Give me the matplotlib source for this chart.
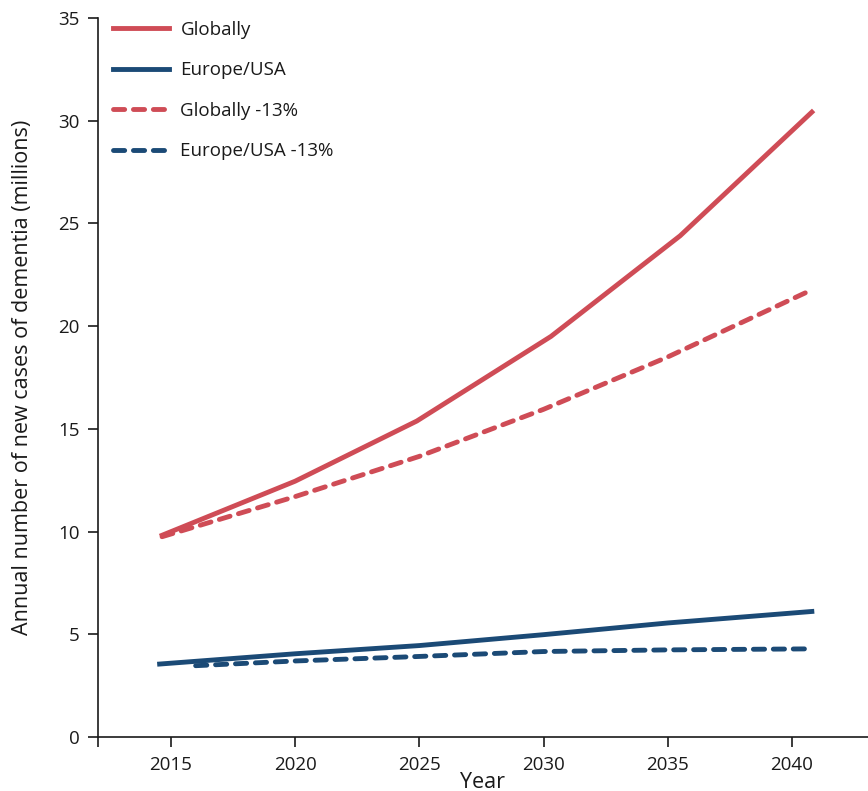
import matplotlib
matplotlib.use("Agg")
import matplotlib.pyplot as plt

plt.rcParams['font.family'] = ['Open Sans', 'DejaVu Sans']

# values (millions of new dementia cases per year)
yearsGlobal = [2014.65, 2020.0, 2024.9, 2030.3, 2035.5, 2040.8]
globally = [9.82, 12.45, 15.38, 19.5, 24.4, 30.42]

yearsGlobalCut = [2014.65, 2020.0, 2025.0, 2030.0, 2035.0, 2040.8]
globallyCut = [9.75, 11.7, 13.66, 15.95, 18.5, 21.77]

yearsEurope = [2014.55, 2020.0, 2025.0, 2030.0, 2035.0, 2040.8]
europe = [3.55, 4.05, 4.45, 4.98, 5.55, 6.11]

yearsEuropeCut = [2016.0, 2020.0, 2025.0, 2030.0, 2035.0, 2040.8]
europeCut = [3.47, 3.7, 3.92, 4.16, 4.24, 4.29]

xTicks = [2015, 2020, 2025, 2030, 2035, 2040]
yTicks = [0, 5, 10, 15, 20, 25, 30, 35]

red = '#cf4c56'
blue = '#1b4a76'

fig = plt.figure(figsize=(8.68, 7.91), dpi=100)
ax = fig.add_axes([0.1129, 0.0683, 0.8871, 0.9089])

lw = 3.5
ax.plot(yearsGlobal, globally, color=red, lw=lw, label='Globally')
ax.plot(yearsEurope, europe, color=blue, lw=lw, label='Europe/USA')
ax.plot(yearsGlobalCut, globallyCut, color=red, lw=lw, dashes=(2.3, 1.8),
        dash_capstyle='round', label='Globally -13%')
ax.plot(yearsEuropeCut, europeCut, color=blue, lw=lw, dashes=(2.3, 1.8),
        dash_capstyle='round', label='Europe/USA -13%')

ax.set_xlim(2012.07, 2043.06)
ax.set_ylim(0, 35)
ax.set_xticks(xTicks)
ax.set_xticks([2012.07], minor=True)
ax.set_yticks(yTicks)
ax.tick_params(axis='both', which='both', direction='out', length=7, width=1.2,
               labelsize=13.5, colors='#1a1a1a')
ax.tick_params(axis='x', pad=7)
ax.tick_params(axis='y', pad=6)

for side in ['top', 'right']:
    ax.spines[side].set_visible(False)
for side in ['left', 'bottom']:
    ax.spines[side].set_linewidth(1.2)
    ax.spines[side].set_color('#1a1a1a')

ax.set_xlabel('Year', fontsize=15.5, labelpad=-2, color='#1a1a1a')
ax.set_ylabel('Annual number of new cases of dementia (millions)', fontsize=15.5,
              labelpad=18, color='#1a1a1a')

leg = ax.legend(loc='upper left', bbox_to_anchor=(-0.005, 1.022), frameon=False,
                fontsize=13.5, handlelength=3.0, handletextpad=0.6,
                labelspacing=1.2, borderaxespad=0.6)
for t in leg.get_texts():
    t.set_color('#1a1a1a')

fig.savefig('out.png', dpi=100)
